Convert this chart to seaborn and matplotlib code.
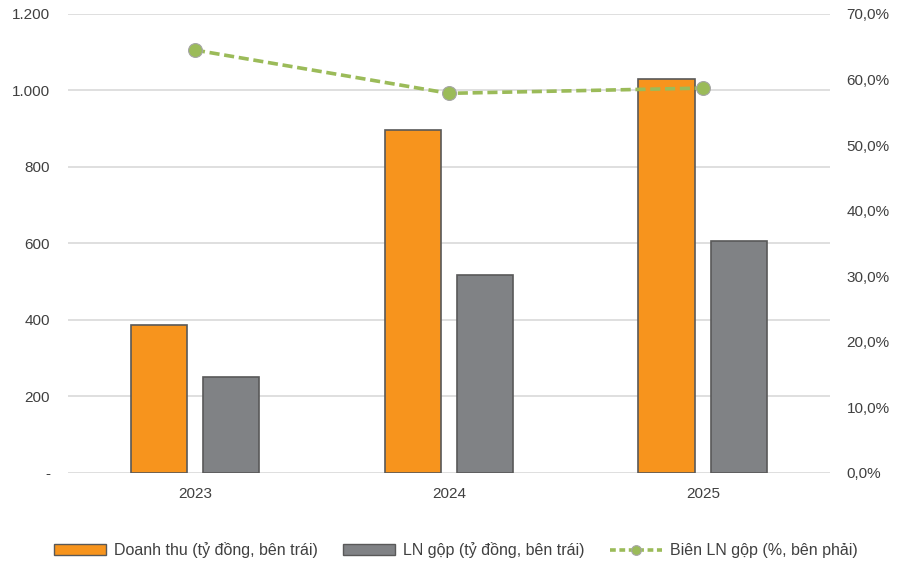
import matplotlib
matplotlib.use("Agg")
import matplotlib.pyplot as plt
from matplotlib.patches import Patch
from matplotlib.lines import Line2D
from matplotlib.ticker import FuncFormatter, MultipleLocator
import seaborn as sns
import pandas as pd

# Data
years = ["2023", "2024", "2025"]
revenue = [387, 897, 1030]            # Doanh thu (tỷ đồng)
gross_profit = [251, 518, 607]        # LN gộp (tỷ đồng)
gross_margin = [0.645, 0.579, 0.587]  # Biên LN gộp

series_names = ["Doanh thu (tỷ đồng, bên trái)", "LN gộp (tỷ đồng, bên trái)"]
line_name = "Biên LN gộp (%, bên phải)"

ORANGE = "#F7941D"
GRAY = "#808285"
GREEN = "#9BBB59"
TEXT = "#404040"
GRID = "#D9D9D9"
EDGE = "#595959"

sns.set_theme(style="white")
plt.rcParams["font.family"] = ["Liberation Sans", "DejaVu Sans"]

bars = pd.DataFrame({
    "year": years * 2,
    "value": revenue + gross_profit,
    "series": [series_names[0]] * len(years) + [series_names[1]] * len(years),
})
line = pd.DataFrame({"year": years, "margin": gross_margin})

fig = plt.figure(figsize=(9.05, 5.62), dpi=100)
ax = fig.add_axes([0.0751, 0.1584, 0.8419, 0.8167])

sns.barplot(data=bars, x="year", y="value", hue="series",
            palette=[ORANGE, GRAY], saturation=1, width=0.57, gap=0.22,
            edgecolor=EDGE, linewidth=1.2, ax=ax, legend=False, zorder=3)

ax.set_xlim(-0.5, 2.5)
ax.set_ylim(0, 1200)
ax.yaxis.set_major_locator(MultipleLocator(200))
ax.yaxis.set_major_formatter(FuncFormatter(
    lambda v, _: "-" if v == 0 else f"{int(v):,}".replace(",", ".")))
ax.grid(axis="y", color=GRID, linewidth=1.2, zorder=0)
ax.set_axisbelow(True)
for s in ax.spines.values():
    s.set_visible(False)
ax.set_xlabel("")
ax.set_ylabel("")
ax.tick_params(axis="both", length=0, labelsize=11, colors=TEXT)
ax.tick_params(axis="y", pad=13)
ax.tick_params(axis="x", pad=10)

ax2 = ax.twinx()
sns.pointplot(data=line, x="year", y="margin", color=GREEN,
              markers="o", linestyles="--", errorbar=None, ax=ax2)
for ln in ax2.lines:
    ln.set_linewidth(2.6)
    ln.set_dashes((2.8, 1.3))
    ln.set_markersize(10)
    ln.set_markeredgecolor("#A6A6A6")
    ln.set_markeredgewidth(0.8)
ax2.set_xlim(-0.5, 2.5)
ax2.set_ylim(0, 0.7)
ax2.yaxis.set_major_locator(MultipleLocator(0.1))
ax2.yaxis.set_major_formatter(FuncFormatter(
    lambda v, _: f"{v * 100:.1f}%".replace(".", ",")))
ax2.grid(False)
for s in ax2.spines.values():
    s.set_visible(False)
ax2.set_xlabel("")
ax2.set_ylabel("")
ax2.tick_params(axis="both", length=0, labelsize=11, colors=TEXT)
ax2.tick_params(axis="y", pad=12)

handles = [
    Patch(facecolor=ORANGE, edgecolor=EDGE, linewidth=1.0),
    Patch(facecolor=GRAY, edgecolor=EDGE, linewidth=1.0),
    Line2D([0], [0], color=GREEN, linewidth=2.6, dashes=(1.6, 1.0),
           marker="o", markersize=7, markeredgecolor="#A6A6A6",
           markeredgewidth=0.8),
]
fig.legend(handles, series_names + [line_name], loc="center",
           bbox_to_anchor=(0.504, 0.0214), ncol=3, frameon=False,
           fontsize=11.5, labelcolor=TEXT, handlelength=3.25,
           handleheight=0.65, handletextpad=0.5, columnspacing=1.6)

fig.savefig("out.png", dpi=100)
